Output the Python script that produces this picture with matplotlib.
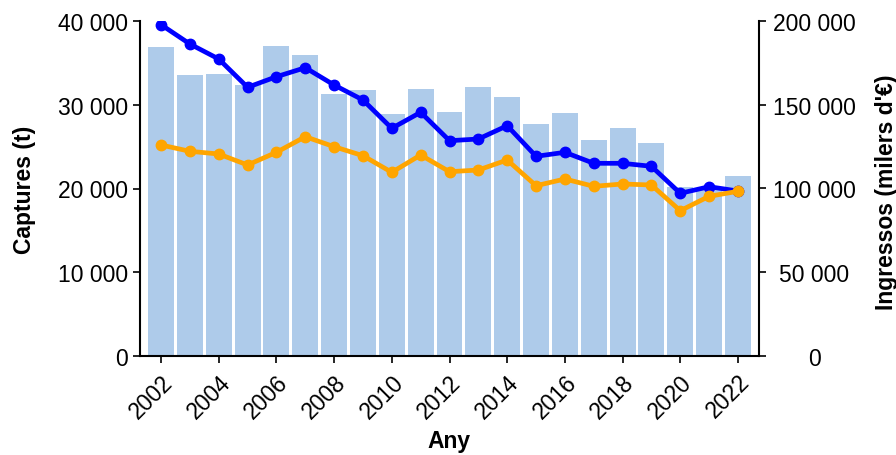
import matplotlib
matplotlib.use("Agg")
import matplotlib.pyplot as plt
from matplotlib.ticker import FuncFormatter

plt.rcParams["font.family"] = ["Liberation Sans", "DejaVu Sans"]

# values
years = list(range(2002, 2023))
captures_t = [36860, 33590, 33710, 32360, 37050, 35940, 31320, 31800, 28900, 31880,
              29170, 32080, 30960, 27700, 28980, 25790, 27190, 25430, 20140, 20100, 21530]
income_blue = [197790, 186270, 177310, 160420, 166750, 172120, 161790, 152840, 135940, 145490,
               128540, 129550, 137490, 119220, 121610, 115040, 115040, 113250, 97130, 101070, 98510]
income_orange = [125970, 122210, 120600, 114030, 121610, 130930, 124960, 119580, 109670, 120000,
                 110030, 111040, 117010, 101670, 105670, 101310, 102690, 102090, 86750, 95340, 98330]
xticks = list(range(2002, 2023, 2))

BAR = "#aecbea"
BLUE = "#0000ff"
ORANGE = "#ffa500"


def sep(v, pos):
    return f"{int(round(v)):,}".replace(",", " ")


fig = plt.figure(figsize=(8.96, 4.56), dpi=100)
ax = fig.add_axes([140 / 896, 1 - 357 / 456, (759 - 140) / 896, (357 - 22) / 456])
ax.bar(years, captures_t, width=0.9, color=BAR, zorder=1)
ax.set_xlim(2001.27, 2022.73)
ax.set_ylim(0, 40000)
ax.set_yticks([0, 10000, 20000, 30000, 40000])
ax.yaxis.set_major_formatter(FuncFormatter(sep))
ax.set_xticks(xticks)
ax.set_xticklabels([str(y) for y in xticks], rotation=45, ha="right", rotation_mode="anchor")
ax.tick_params(axis="both", labelsize=16.5, length=5, width=1.2, colors="black")
ax.tick_params(axis="x", pad=5)
ax.spines["top"].set_visible(False)
ax.spines["right"].set_visible(False)
for s in ("left", "bottom"):
    ax.spines[s].set_linewidth(1.5)

ax2 = ax.twinx()
ax2.plot(years, income_blue, "-o", color=BLUE, lw=3.4, ms=7.5, zorder=3)
ax2.plot(years, income_orange, "-o", color=ORANGE, lw=3.4, ms=7.5, zorder=4)
ax2.set_ylim(0, 200000)
ax2.set_yticks([0, 50000, 100000, 150000, 200000])
ax2.yaxis.set_major_formatter(FuncFormatter(sep))
ax2.tick_params(axis="y", labelsize=16.5, length=5, width=1.2, pad=35)
for lab in ax2.get_yticklabels():
    lab.set_ha("center")
ax2.spines["top"].set_visible(False)
ax2.spines["left"].set_visible(False)
ax2.spines["bottom"].set_visible(False)
ax2.spines["right"].set_linewidth(1.5)

fig.text(24 / 896, 1 - 190 / 456, "Captures (t)", rotation=90, ha="center", va="center",
         fontsize=16.5, fontweight="bold")
fig.text(886 / 896, 1 - 192 / 456, "Ingressos (milers d'€)", rotation=90, ha="center", va="center",
         fontsize=16.5, fontweight="bold")
fig.text(449 / 896, 1 - 442 / 456, "Any", ha="center", va="center", fontsize=16.5, fontweight="bold")

fig.savefig("out.png", dpi=100)
